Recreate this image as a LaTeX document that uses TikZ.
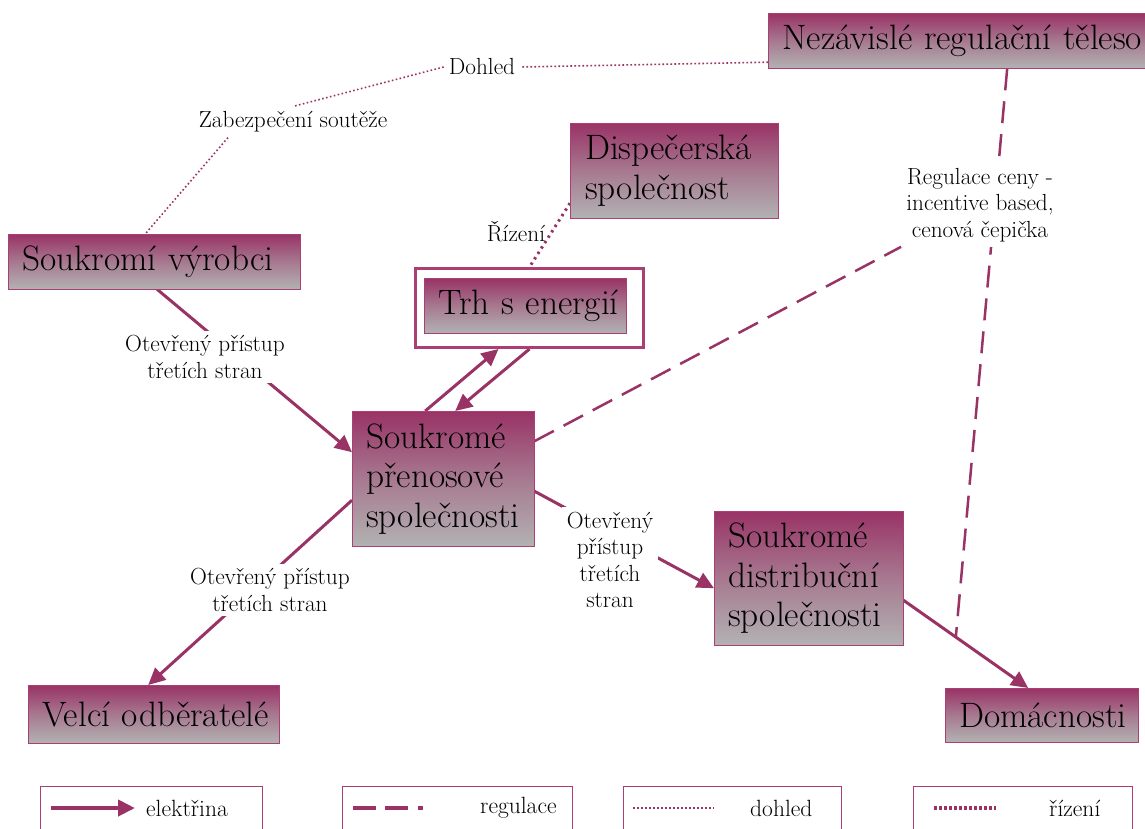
\documentclass[tikz,border=0pt]{standalone}
\usetikzlibrary{arrows.meta,calc}
\definecolor{mag}{RGB}{153,51,102}
\definecolor{magb}{RGB}{172,62,118}
\definecolor{bgray}{RGB}{178,178,178}
\pgfdeclarelayer{bg}
\pgfsetlayers{bg,main}
\newcommand\bxfont{\fontsize{35.3}{39.5}\selectfont\hyphenpenalty=10000\relax\exhyphenpenalty=10000\relax}
\begin{document}
\begin{tikzpicture}[x=1pt,y=-1pt,
  box/.style={top color=mag, bottom color=bgray, middle color=mag!45!bgray,
    postaction={draw=magb, line width=1.4pt},
    anchor=north west, inner xsep=14pt, inner ysep=0pt, align=left, font=\bxfont, text=black},
  lbl/.style={font=\fontsize{23.3}{26.5}\selectfont, align=center, fill=white, inner sep=5pt},
  elec/.style={draw=mag, line width=3pt, -{Triangle[length=17pt,width=16pt]}},
  regl/.style={draw=mag, line width=2.5pt, dash pattern=on 22pt off 11pt},
  dohl/.style={draw=mag, line width=1.6pt, dash pattern=on 1.6pt off 2.4pt},
  rizs/.style={draw=mag, line width=3pt, dash pattern=on 2.4pt off 4pt},
  legbox/.style={draw=magb, line width=1.3pt, anchor=north west, minimum height=60pt, inner sep=0pt},
  legtxt/.style={font=\fontsize{23.5}{26}\selectfont, anchor=west, inner sep=0pt}
]
\path[use as bounding box] (0,0) rectangle (1145,828);

% boxes
\node[box, text width=354pt, minimum height=55pt] (reg) at (768,13) {\mbox{Nezávislé regulační těleso}};
\node[box, text width=178pt, minimum height=95pt, inner xsep=15pt] (disp) at (570,123) {Dispečerská\\společnost};
\node[box, text width=264pt, minimum height=55pt] (vyr) at (8,234) {\mbox{Soukromí výrobci}};
\node[draw=magb, line width=3pt, fill=white, anchor=north west, minimum width=228pt, minimum height=79pt, inner sep=0pt] (trhO) at (414,267) {};
\node[box, text width=174pt, minimum height=55pt] (trh) at (424,278) {\mbox{Trh s energií}};
\node[box, text width=154pt, minimum height=135pt] (pren) at (352,411) {Soukromé\\přenosové\\společnosti};
\node[box, text width=161pt, minimum height=134pt] (dist) at (714,511) {Soukromé\\distribuční\\společnosti};
\node[box, text width=223pt, minimum height=58pt] (velci) at (28,685) {\mbox{Velcí odběratelé}};
\node[box, text width=165pt, minimum height=54pt] (dom) at (945,688) {\mbox{Domácnosti}};

% labels
\node[lbl] (lblA) at (205,357) {Otevřený přístup\\třetích stran};
\node[lbl] (lblD) at (270,590) {Otevřený přístup\\třetích stran};
\node[lbl] (lblE) at (610,560) {Otevřený\\přístup\\třetích\\stran};
\node[lbl] (lblZab) at (293,122) {Zabezpečení soutěže};
\node[lbl] (lblDoh) at (482,67) {Dohled};
\node[lbl] (lblReg) at (980,205) {Regulace ceny -\\incentive based,\\cenová čepička};
\node[lbl, fill=none, inner sep=1pt] (lblRiz) at (516,232) {Řízení};

% connectors
\begin{pgfonlayer}{bg}
\draw[elec] ([xshift=3pt]vyr.south) -- ([yshift=26.5pt]pren.west);
\draw[elec] ([xshift=-18pt]pren.north) -- ([xshift=-31pt]trhO.south);
\draw[elec] (trhO.south) -- ([xshift=12pt]pren.north);
\draw[elec] ([yshift=-21.5pt]pren.west) -- ([xshift=-5.5pt]velci.north);
\draw[elec] ([yshift=-12.5pt]pren.east) -- ([yshift=-10pt]dist.west);
\draw[elec] ([yshift=-22pt]dist.east) -- coordinate[pos=0.42] (fmid) ([xshift=-13.5pt]dom.north);
\draw[regl] ([xshift=48pt]reg.south) -- (fmid);
\draw[regl] ([yshift=37.5pt]pren.east) -- (lblReg);
\draw[dohl] ([yshift=-21.5pt]reg.west) -- (lblDoh.east);
\draw[dohl] (lblDoh.west) -- (lblZab.north);
\draw[dohl] ([xshift=-65pt]lblZab.south) -- ([xshift=-9pt]vyr.north);
\draw[rizs] ([yshift=-32.5pt]disp.west) -- (trhO.north);
\end{pgfonlayer}

% legend
\node[legbox, minimum width=222pt] (leg1) at (40,786) {};
\node[legbox, minimum width=230pt] (leg2) at (342,786) {};
\node[legbox, minimum width=218pt] (leg3) at (623,786) {};
\node[legbox, minimum width=219pt] (leg4) at (913,786) {};
\node[legtxt] (legT1) at (146,808) {elektřina};
\node[legtxt] (legT2) at (480,808) {regulace};
\node[legtxt] (legT3) at (750,808) {dohled};
\node[legtxt] (legT4) at (1049,808) {řízení};
\draw[elec, line width=4pt] ([xshift=11pt,yshift=-22pt]leg1.north west) -- ++(84,0);
\draw[draw=mag, line width=4pt, dash pattern=on 23pt off 9pt on 23pt off 10pt on 5pt off 10pt] ([xshift=11pt,yshift=-22pt]leg2.north west) -- ++(70,0);
\draw[dohl] ([xshift=10pt,yshift=-22pt]leg3.north west) -- ++(81,0);
\draw[draw=mag, line width=4pt, dash pattern=on 2.5pt off 2.5pt] ([xshift=21pt,yshift=-22pt]leg4.north west) -- ++(62,0);
\end{tikzpicture}
\end{document}
